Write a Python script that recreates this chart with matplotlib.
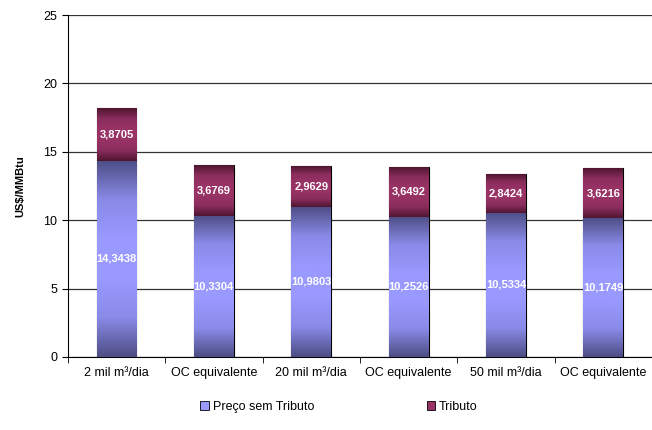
import numpy as np
import matplotlib.pyplot as plt
from matplotlib.colors import LinearSegmentedColormap
from matplotlib.patches import Patch

plt.rcParams['font.family'] = ['Liberation Sans', 'DejaVu Sans']

categorias = ['2 mil m³/dia', 'OC equivalente', '20 mil m³/dia',
              'OC equivalente', '50 mil m³/dia', 'OC equivalente']
preco = [14.3438, 10.3304, 10.9803, 10.2526, 10.5334, 10.1749]
tributo = [3.8705, 3.6769, 2.9629, 3.6492, 2.8424, 3.6216]

cor_preco = '#9999FF'
cor_trib = '#993366'

# gradiente vertical: escuro nas bordas, claro no meio
cmap_preco = LinearSegmentedColormap.from_list('p', ['#4d4d85', '#8a8ae8', '#9999FF', '#9999FF', '#8a8ae8', '#4d4d85'])
cmap_trib = LinearSegmentedColormap.from_list('t', ['#4f1530', '#8a2d5c', '#993366', '#993366', '#8a2d5c', '#4f1530'])

def fmt(v):
    return ('%.4f' % v).replace('.', ',')

fig = plt.figure(figsize=(6.52, 4.3), dpi=100)
ax = fig.add_axes([0.104, 0.170, 0.896, 0.795])

x = np.arange(len(categorias))
w = 0.41
grad = np.linspace(0, 1, 256).reshape(-1, 1)

for bars, cmap in [(ax.bar(x, preco, w, color=cor_preco, edgecolor='black', linewidth=0.8, zorder=3), cmap_preco),
                   (ax.bar(x, tributo, w, bottom=preco, color=cor_trib, edgecolor='black', linewidth=0.8, zorder=3), cmap_trib)]:
    for b in bars:
        x0, y0 = b.get_x(), b.get_y()
        im = ax.imshow(grad, cmap=cmap, aspect='auto', origin='lower',
                       extent=(x0, x0 + b.get_width(), y0, y0 + b.get_height()), zorder=3.5)
        im.set_clip_path(b)

for i in range(len(x)):
    ax.text(x[i], preco[i] / 2, fmt(preco[i]), ha='center', va='center',
            color='white', fontweight='bold', fontsize=8, zorder=5)
    ax.text(x[i], preco[i] + tributo[i] / 2, fmt(tributo[i]), ha='center', va='center',
            color='white', fontweight='bold', fontsize=8, zorder=5)

ax.set_xlim(-0.5, len(x) - 0.5)
ax.set_ylim(0, 25)
ax.set_yticks(range(0, 26, 5))
ax.set_xticks(x)
ax.set_xticklabels(categorias, fontsize=9)
ax.set_xticks(np.arange(-0.5, len(x), 1), minor=True)
ax.tick_params(axis='x', which='major', length=0, pad=7)
ax.tick_params(axis='x', which='minor', length=4, direction='out')
ax.tick_params(axis='y', labelsize=9, length=4, direction='out')
ax.yaxis.grid(True, color='#333333', linewidth=0.9, zorder=0)
ax.set_axisbelow(True)
for s in ['top', 'right']:
    ax.spines[s].set_visible(False)
ax.set_ylabel('US$/MMBtu', fontsize=8, fontweight='bold', labelpad=13)

handles = [Patch(facecolor=cor_preco, edgecolor='black', linewidth=0.6),
           Patch(facecolor=cor_trib, edgecolor='black', linewidth=0.6)]
fig.legend(handles, ['Preço sem Tributo', 'Tributo'], loc='center', bbox_to_anchor=(0.52, 0.053),
           ncol=2, frameon=False, fontsize=9, handlelength=0.7, handleheight=0.7,
           handletextpad=0.3, columnspacing=9)

fig.savefig('out.png', dpi=100)
